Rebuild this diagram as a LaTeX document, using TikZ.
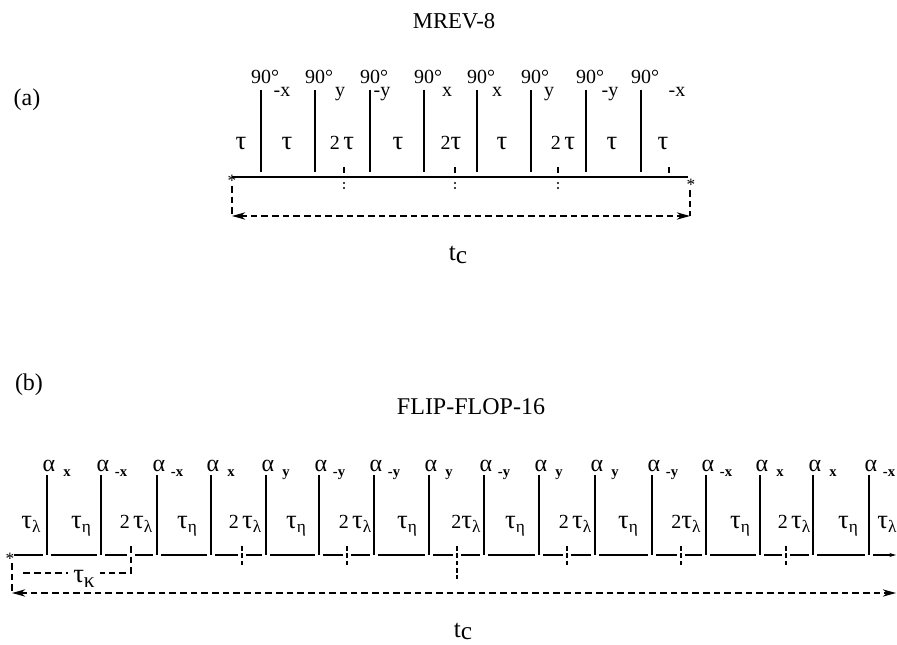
\documentclass[tikz,border=0pt]{standalone}
\usepackage{fontspec}
\setmainfont{Liberation Serif}
\usepackage{tikz}
\usetikzlibrary{arrows.meta}

\newcommand{\ttau}{{\fontsize{20}{20}\selectfont τ}}
\newcommand{\tsub}[1]{\ttau\raisebox{-0.5ex}{\fontsize{13}{13}\selectfont #1}}

\begin{document}
\begin{tikzpicture}[x=0.75pt,y=-0.75pt,
    pulse/.style={line width=1.6pt},
    base/.style={line width=1.2pt},
    frame/.style={line width=1.2pt, dash pattern=on 5pt off 3pt},
    tickmark/.style={line width=1.1pt, dash pattern=on 3.5pt off 2pt},
    tipboth/.style={arrows={Stealth[length=10pt,width=5.5pt]-Stealth[length=10pt,width=5.5pt]}},
    lbl/.style={font=\fontsize{15}{17}\selectfont, inner sep=0pt},
    sublbl/.style={font=\fontsize{15}{15}\selectfont, inner sep=0pt, anchor=base},
    bsub/.style={font=\fontsize{11}{11}\selectfont\bfseries, inner sep=0pt, anchor=base},
    taulbl/.style={font=\fontsize{15}{17}\selectfont, inner sep=0pt, anchor=base},
    starlbl/.style={font=\fontsize{13}{13}\selectfont, inner sep=0pt}]
    \useasboundingbox (0,0) rectangle (897,645);

    % (a) MREV-8
    \node[lbl, font=\fontsize{17}{19}\selectfont] (titleA) at (454,21) {MREV-8};
    \node[lbl, font=\fontsize{18}{20}\selectfont] (partA) at (27,100) {(a)};

    % time axis
    \coordinate (a0) at (232,177);
    \coordinate (a1) at (688,177);
    \draw[base] (a0) -- (a1);
    \node[starlbl] (starA0) at (232,181) {*};
    \node[starlbl] (starA1) at (691,185) {*};

    % pulses with phases
    \foreach \px/\ph/\sx [count=\i] in {261/-x/282, 315/y/340, 370/-y/382, 424/x/447,
        477/x/497, 531/y/549, 586/-y/610, 641/-x/677} {
        \draw[pulse] (\px,90) -- (\px,172);
        \node[lbl, anchor=base] (degA\i) at (\px+4,84) {90°};
        \node[sublbl] (phA\i) at (\sx,97) {\ph};
    }

    % delays
    \foreach \tx/\tl [count=\i] in {241/\ttau, 287/\ttau, 342/2\,\ttau, 398/\ttau, 451/2\ttau,
        502/\ttau, 563/2\,\ttau, 612/\ttau, 663/\ttau} {
        \node[taulbl] (dA\i) at (\tx,150) {\tl};
    }

    % cycle midpoints
    \foreach \mx in {344,455,558} {
        \draw[line width=1.3pt] (\mx,167) -- (\mx,173);
        \fill (\mx,183) circle (0.8pt);
        \fill (\mx,188) circle (0.8pt);
    }
    \draw[line width=1.3pt] (669,167) -- (669,173);

    % cycle time
    \coordinate (a0d) at (232,216);
    \coordinate (a1d) at (690,216);
    \draw[frame] (232,186) -- (a0d);
    \draw[frame] (690,190) -- (a1d);
    \draw[frame, tipboth] (a0d) -- (a1d);
    \node[lbl, font=\fontsize{19}{19}\selectfont, anchor=base] (tcA) at (458,261) {t\raisebox{-2pt}{c}};

    % (b) FLIP-FLOP-16
    \node[lbl, font=\fontsize{18}{20}\selectfont] (partB) at (29,385) {(b)};
    \node[lbl, font=\fontsize{18}{20}\selectfont] (titleB) at (471,407) {FLIP-FLOP-16};

    % time axis, broken at pulses and midpoints
    \foreach \b [remember=\b as \a (initially 10)] in {47,101,131,157,211,242,266,319,347,374,
        429,457,484,539,567,595,652,681,706,760,786,813,869} {
        \draw[base] (\a+4,555) -- (\b-4,555);
    }
    \draw[base, -{Stealth[length=5pt,width=3pt]}] (873,555) -- (896,555);
    \node[starlbl] (starB0) at (10,559) {*};

    % pulses with phases
    \foreach \px/\ph [count=\i] in {47/x, 101/-x, 157/-x, 211/x, 266/y, 319/-y, 374/-y, 429/y,
        484/-y, 539/y, 595/y, 652/-y, 706/-x, 760/x, 813/x, 869/-x} {
        \draw[pulse, line width=1.3pt] (\px,475) -- (\px,555);
        \node[lbl, font=\fontsize{18}{18}\selectfont, anchor=base] (alB\i) at (\px+2,472) {α};
        \node[bsub] (phB\i) at (\px+20,477) {\ph};
    }

    % delays
    \foreach \tx/\tl [count=\i] in {31/\tsub{λ}, 81/\tsub{η}, 136/2\,\tsub{λ}, 187/\tsub{η},
        245/2\,\tsub{λ}, 296/\tsub{η}, 355/2\,\tsub{λ}, 407/\tsub{η}, 466/2\tsub{λ},
        515/\tsub{η}, 575/2\,\tsub{λ}, 628/\tsub{η}, 686/2\tsub{λ}, 740/\tsub{η},
        794/2\,\tsub{λ}, 848/\tsub{η}, 887/\tsub{λ}} {
        \node[taulbl] (dB\i) at (\tx,528) {\tl};
    }

    % midpoints
    \foreach \mx in {242,347,567,681,786} {
        \draw[tickmark] (\mx,546) -- (\mx,566);
    }
    \draw[tickmark] (457,546) -- (457,579);

    % tau kappa
    \coordinate (kA) at (131,546);
    \coordinate (kB) at (131,573);
    \coordinate (kC) at (22,573);
    \draw[frame] (kA) -- (kB) -- (kC);
    \node[taulbl, fill=white, inner xsep=4pt, inner ysep=1pt] (dK) at (84,582)
        {\ttau\raisebox{-0.6ex}{\fontsize{16}{16}\selectfont κ}};

    % cycle time
    \coordinate (b0d) at (12,593);
    \coordinate (b1d) at (896,593);
    \draw[frame] (12,563) -- (b0d);
    \draw[frame, tipboth] (b0d) -- (b1d);
    \node[lbl, font=\fontsize{19}{19}\selectfont, anchor=base] (tcB) at (463,637) {t\raisebox{-2pt}{c}};
\end{tikzpicture}
\end{document}
